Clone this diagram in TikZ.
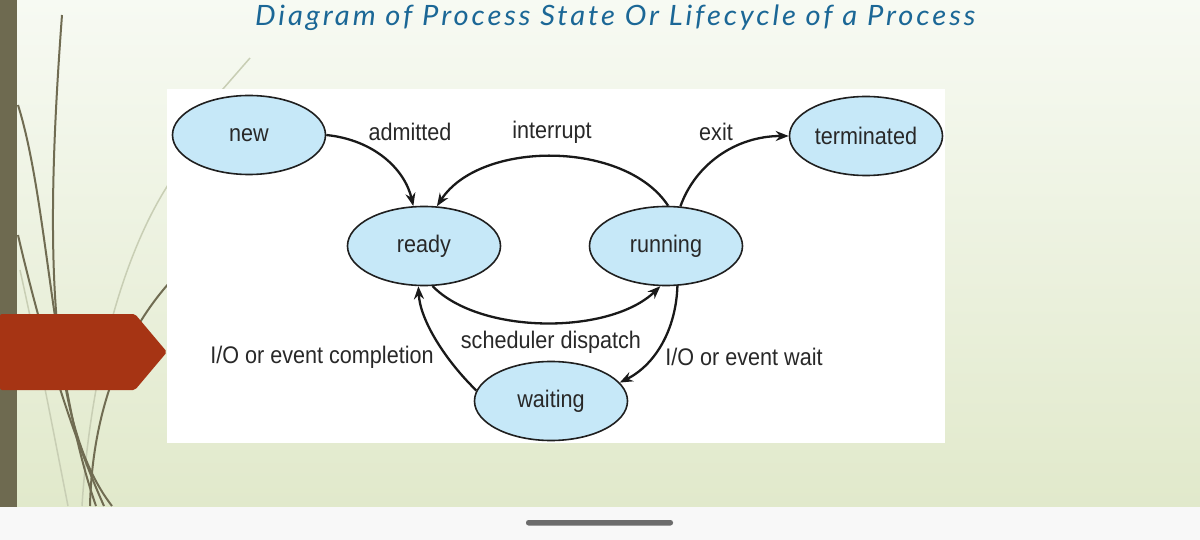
\documentclass[tikz,border=0pt]{standalone}
\usepackage{fontspec}
\usepackage{graphicx}
\usetikzlibrary{shapes.geometric,arrows.meta}
\newfontfamily\labfont[FakeStretch=0.9]{Liberation Sans}
\newfontfamily\titlefont[LetterSpace=10]{Lato}
\definecolor{bgtop}{RGB}{247,250,243}
\definecolor{bgbot}{RGB}{225,233,203}
\definecolor{barcol}{RGB}{110,106,80}
\definecolor{grass}{RGB}{112,108,82}
\definecolor{grasslight}{RGB}{200,206,180}
\definecolor{arrowred}{RGB}{166,52,20}
\definecolor{statefill}{RGB}{198,232,248}
\definecolor{titlecol}{RGB}{27,103,150}
\definecolor{txt}{RGB}{40,40,40}
\definecolor{navbar}{RGB}{248,248,248}
\definecolor{handle}{RGB}{108,108,108}
\tikzset{
  state/.style={ellipse, draw=black!88, line width=1.6pt, fill=statefill,
    minimum width=153pt, minimum height=79pt, inner sep=0pt,
    text=txt, font=\labfont\fontsize{24}{26}\selectfont},
  lab/.style={text=txt, inner sep=0pt, font=\labfont\fontsize{24}{26}\selectfont},
  edge/.style={draw=black!90, line width=2.3pt, -{Stealth[length=13pt,width=10pt]}},
  grassline/.style={draw=grass, line width=2pt},
  grassthin/.style={draw=grasslight, line width=1.5pt}
}
\begin{document}
\begin{tikzpicture}[x=1pt,y=-1pt]
\useasboundingbox (0,0) rectangle (1200,540);
% background
\shade[top color=bgtop, bottom color=bgbot] (0,0) rectangle (1200,507);
% grass decoration
\draw[grassthin] (250,58) -- (168,152);
\draw[grassthin] (168,185) .. controls (120,260) and (90,380) .. (82,506);
\draw[grassthin] (20,270) .. controls (40,360) and (55,440) .. (68,506);
\draw[grassline] (62,15) .. controls (46,230) and (45,420) .. (112,506);
\draw[grassline] (18,105) .. controls (48,200) and (52,380) .. (96,506);
\draw[grassline] (18,235) .. controls (40,330) and (70,430) .. (104,506);
\draw[grassline] (170,282) .. controls (118,340) and (92,420) .. (90,506);
% left bar
\fill[barcol] (0,0) rectangle (17,507);
% red arrow
\fill[arrowred, rounded corners=2pt] (0,314) -- (135,314) -- (167,352) -- (135,390) -- (0,390) -- cycle;
% white panel
\fill[white] (167,89) rectangle (945,443);
% title
\node[anchor=base west, inner sep=0pt, text=titlecol] (title) at (255,26)
  {\resizebox{720pt}{\height}{\titlefont\itshape\fontsize{28}{30}\selectfont Diagram of Process State Or Lifecycle of a Process}};
% states
\node[state] (new) at (249,135) {new};
\node[state] (term) at (866,136) {terminated};
\node[state] (ready) at (424,246) {ready};
\node[state] (running) at (666,246) {running};
\node[state] (waiting) at (551,401) {waiting};
% edges
\draw[edge] (new.east) .. controls (375,140) and (405,170) .. (ready.105);
\draw[edge] (running.87) .. controls (625,140) and (480,140) .. (ready.72);
\draw[edge] (running.70) .. controls (695,165) and (735,136) .. (term.west);
\draw[edge] (ready.282) .. controls (480,335) and (610,335) .. (running.262);
\draw[edge] (running.286) .. controls (676,330) and (655,365) .. (waiting.15);
\draw[edge] (waiting.172) .. controls (445,360) and (420,320) .. (ready.262);
% labels
\node[lab] (ladm) at (410,132) {admitted};
\node[lab] (lint) at (552,132) {interrupt};
\node[lab] (lexit) at (716,132) {exit};
\node[lab] (lsch) at (551,342) {scheduler dispatch};
\node[lab] (lcomp) at (322,357) {I/O or event completion};
\node[lab] (lwait) at (744,357) {I/O or event wait};
% bottom navigation bar
\fill[navbar] (0,507) rectangle (1200,540);
\fill[handle, rounded corners=2.5pt] (526,520) rectangle (673,525.5);
\end{tikzpicture}
\end{document}
